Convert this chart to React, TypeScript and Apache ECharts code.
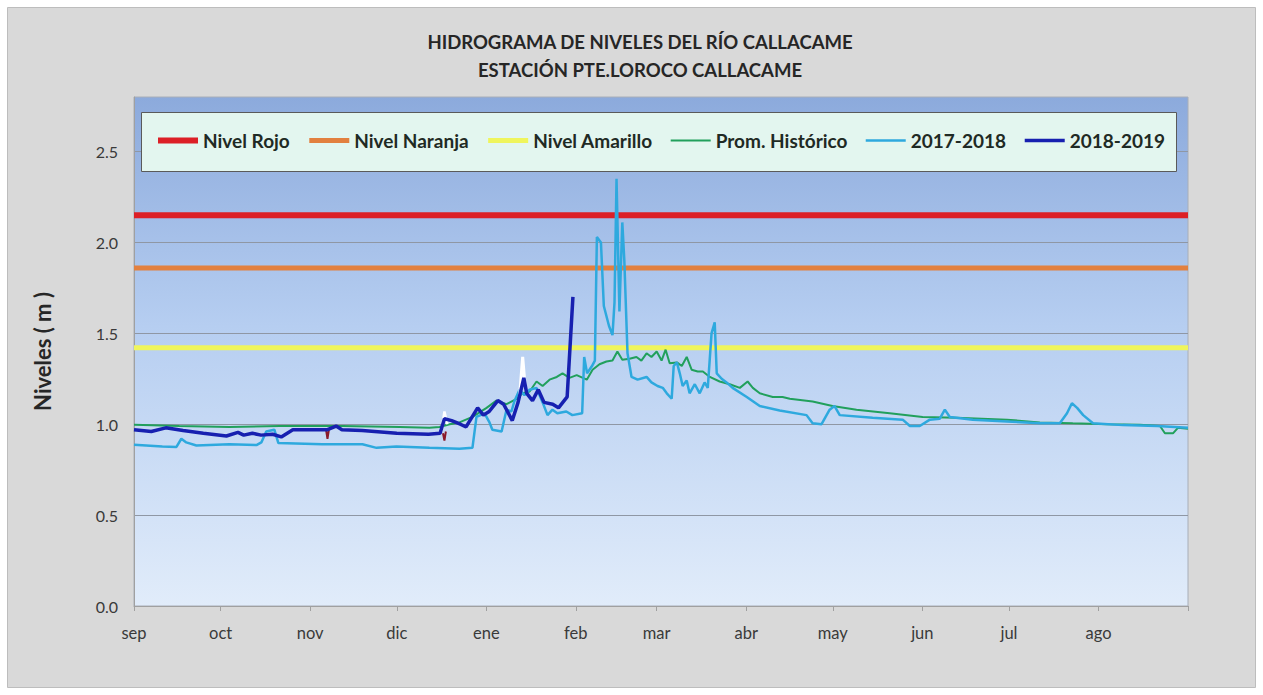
import React, { useEffect, useRef } from "react";
import * as echarts from "echarts";

// ---- axis labels ----
const titleLine1 = "HIDROGRAMA DE NIVELES DEL RÍO CALLACAME";
const titleLine2 = "ESTACIÓN PTE.LOROCO CALLACAME";
const yAxisName = "Niveles ( m )";
const monthLabels = ["sep", "oct", "nov", "dic", "ene", "feb", "mar", "abr", "may", "jun", "jul", "ago"];
// day index (from 1 sep) of each month start
const monthStartDays = [0, 30, 61, 91, 122, 153, 181, 212, 242, 273, 303, 334];
const yearEndDay = 365;

// ---- threshold levels (m) ----
const nivelRojo = 2.15;
const nivelNaranja = 1.86;
const nivelAmarillo = 1.42;

// ---- series: [day since 1 sep, level m] ----
const promHistorico: [number, number][] = [
  [0, 0.997], [15.7, 0.99], [33, 0.985], [50.4, 0.99], [72.2, 0.99], [92, 0.985], [102.3, 0.98],
  [105.8, 0.985], [109.3, 1.0], [112.7, 1.01], [117.2, 1.04], [122.1, 1.09], [125.5, 1.13],
  [129, 1.11], [132.5, 1.14], [134.6, 1.17], [137, 1.18], [139.4, 1.235], [141.5, 1.21],
  [143.9, 1.245], [146.4, 1.26], [148.4, 1.28], [150.8, 1.255], [153.3, 1.27], [156.8, 1.245],
  [158.8, 1.3], [161.2, 1.33], [163.6, 1.345], [165.7, 1.35], [167.4, 1.4], [169.1, 1.355],
  [171.6, 1.36], [174, 1.37], [175.7, 1.35], [177.5, 1.39], [179.2, 1.37], [181, 1.4],
  [182.7, 1.35], [184.1, 1.41], [185.5, 1.335], [188, 1.34], [189.7, 1.32], [191.4, 1.37],
  [193.1, 1.3], [195.2, 1.29], [197, 1.29], [199.4, 1.26], [202.8, 1.235], [206.3, 1.22],
  [209.8, 1.2], [212.5, 1.235], [214.3, 1.2], [216.7, 1.17], [221.2, 1.15], [224.6, 1.15],
  [227.1, 1.14], [235, 1.125], [241.9, 1.1], [250.2, 1.08], [261.7, 1.06], [273.1, 1.04],
  [284.9, 1.035], [302.3, 1.025], [313.7, 1.01], [325.1, 1.005], [336.9, 1.0], [348.3, 0.997],
  [355.3, 0.99], [357, 0.95], [359.8, 0.95], [361.5, 0.98], [365, 0.975],
];

const serie2017_2018: [number, number][] = [
  [0, 0.887], [9.8, 0.877], [14.7, 0.875], [16.4, 0.92], [18.1, 0.9], [21.6, 0.883], [33, 0.89],
  [42.4, 0.885], [44.1, 0.9], [45.8, 0.96], [48.6, 0.97], [50, 0.896], [65.2, 0.89], [79.1, 0.89],
  [84, 0.87], [90.9, 0.877], [102.3, 0.87], [112.7, 0.865], [117.2, 0.87], [118.6, 1.04],
  [121.4, 1.06], [123.1, 1.01], [124.1, 0.97], [127.3, 0.96], [129, 1.08], [130.7, 1.07],
  [131.7, 1.125], [133.5, 1.19], [135.2, 1.16], [137, 1.19], [139.4, 1.2], [141.5, 1.12],
  [143.2, 1.05], [144.9, 1.08], [146.6, 1.06], [149.7, 1.07], [151.8, 1.05], [155.2, 1.06],
  [155.9, 1.37], [156.9, 1.28], [158.6, 1.32], [159.6, 1.35], [160.3, 2.03], [161.7, 2.0],
  [162.7, 1.65], [164.5, 1.54], [165.7, 1.49], [166.4, 1.67], [167.1, 2.35], [168.1, 1.62],
  [169.1, 2.11], [169.8, 1.9], [170.9, 1.39], [172.3, 1.26], [174.4, 1.245], [177.5, 1.26],
  [179.2, 1.23], [181.3, 1.21], [183.1, 1.2], [184.5, 1.17], [186.2, 1.14], [186.9, 1.32],
  [188, 1.34], [189, 1.28], [190, 1.21], [191.4, 1.24], [192.4, 1.17], [194.2, 1.22],
  [195.9, 1.17], [197.6, 1.23], [198.7, 1.2], [200, 1.5], [201.1, 1.56], [201.8, 1.28],
  [203.5, 1.25], [205.2, 1.23], [207.3, 1.2], [212.2, 1.15], [216.7, 1.1], [223.6, 1.075],
  [232.9, 1.05], [235, 1.005], [238.1, 1.0], [240.9, 1.08], [242.6, 1.1], [244.4, 1.05],
  [255.8, 1.035], [266.2, 1.025], [268.7, 0.99], [272.1, 0.99], [275.6, 1.025], [279, 1.03],
  [280.8, 1.08], [282.5, 1.04], [290.5, 1.025], [302.3, 1.015], [313.7, 1.005], [320.6, 1.005],
  [323.1, 1.06], [324.8, 1.115], [326.6, 1.09], [328.7, 1.05], [332.1, 1.005], [342.5, 0.995],
  [354.3, 0.99], [365, 0.98],
];

const serie2018_2019: [number, number][] = [
  [0, 0.97], [6, 0.96], [11, 0.98], [17, 0.965], [24, 0.95], [32, 0.935], [36, 0.955], [38, 0.94],
  [41, 0.95], [44, 0.94], [48, 0.945], [51, 0.93], [55, 0.97], [67, 0.97], [70, 0.99], [72, 0.97],
  [79, 0.965], [91, 0.95], [102, 0.945], [106, 0.95], [107.5, 1.03], [110, 1.02], [113, 1.0],
  [115, 0.985], [119, 1.09], [121, 1.05], [123, 1.07], [126, 1.13], [128, 1.11], [131, 1.02],
  [133, 1.12], [135, 1.255], [136, 1.17], [138, 1.13], [140, 1.19], [142, 1.12], [145, 1.11],
  [147, 1.09], [150, 1.15], [152, 1.7],
];

// small partially hidden traces visible behind the 2018-2019 line
const trazoBlanco1: [number, number][] = [[106.5, 0.96], [107.5, 1.07], [108.5, 1.0]];
const trazoBlanco2: [number, number][] = [[133.5, 1.15], [134.6, 1.37], [135.5, 1.2]];
const trazoRojo1: [number, number][] = [[66.5, 0.97], [67, 0.92], [67.5, 0.97]];
const trazoRojo2: [number, number][] = [[107, 0.95], [107.5, 0.91], [108, 0.96]];

const legendNames = ["Nivel Rojo", "Nivel Naranja", "Nivel Amarillo", "Prom. Histórico", "2017-2018", "2018-2019"];

const FONT = "Lato";

export default function App() {
  const ref = useRef<HTMLDivElement>(null);

  useEffect(() => {
    document.body.style.margin = "0";
    const chart = echarts.init(ref.current!, null, { renderer: "svg" });

    const flat = (v: number, name: string, color: string, width: number) => ({
      name,
      type: "line",
      data: [[0, v], [yearEndDay, v]],
      symbol: "none",
      lineStyle: { color, width },
      itemStyle: { color },
      silent: true,
    });
    const trace = (data: [number, number][], name: string, color: string, width: number) => ({
      name,
      type: "line",
      data,
      symbol: "none",
      lineStyle: { color, width },
      itemStyle: { color },
      silent: true,
    });

    chart.setOption({
      animation: false,
      backgroundColor: "#ffffff",
      graphic: [
        {
          type: "rect",
          z: -10,
          shape: { x: 7.5, y: 7.5, width: 1248, height: 680 },
          style: { fill: "#d9d9d9", stroke: "#bdbdbd", lineWidth: 1 },
        },
        {
          type: "text",
          x: 640,
          y: 42,
          style: {
            text: titleLine1,
            textAlign: "center",
            textVerticalAlign: "middle",
            font: `bold 18.5px ${FONT}`,
            fill: "#262626",
          },
        },
        {
          type: "text",
          x: 640,
          y: 70,
          style: {
            text: titleLine2,
            textAlign: "center",
            textVerticalAlign: "middle",
            font: `bold 18.5px ${FONT}`,
            fill: "#262626",
          },
        },
        {
          type: "rect",
          z: 50,
          shape: { x: 141.5, y: 112.5, width: 1035, height: 59 },
          style: { fill: "#e3f6ef", stroke: "#5a5a5a", lineWidth: 1 },
        },
      ],
      legend: {
        z: 60,
        left: 150,
        top: 126,
        itemWidth: 40,
        itemHeight: 14,
        itemGap: 17,
        data: legendNames,
        itemStyle: { opacity: 0 },
        lineStyle: { width: "inherit" },
        textStyle: { fontFamily: FONT, fontWeight: "bold", fontSize: 19, color: "#1f2a24" },
      },
      grid: {
        left: 134,
        right: 75,
        top: 97,
        bottom: 89,
        show: true,
        borderWidth: 1,
        borderColor: "#a8aeb8",
        backgroundColor: new echarts.graphic.LinearGradient(0, 0, 0, 1, [
          { offset: 0, color: "#8caadc" },
          { offset: 0.45, color: "#b6cef1" },
          { offset: 1, color: "#e1ecfa" },
        ]),
      },
      xAxis: {
        type: "value",
        min: 0,
        max: yearEndDay,
        axisLine: { show: true, lineStyle: { color: "#a0a0a0" } },
        axisTick: { show: true, customValues: [...monthStartDays, yearEndDay], length: 5, lineStyle: { color: "#a0a0a0" } },
        axisLabel: {
          customValues: monthStartDays,
          formatter: (v: number) => {
            const i = monthStartDays.indexOf(Math.round(v));
            return i >= 0 ? monthLabels[i] : "";
          },
          margin: 18,
          fontFamily: FONT,
          fontSize: 16.5,
          color: "#3a3a3a",
        },
        splitLine: { show: false },
      },
      yAxis: {
        type: "value",
        min: 0,
        max: 2.8,
        interval: 0.5,
        name: yAxisName,
        nameLocation: "middle",
        nameGap: 81,
        nameTextStyle: { fontFamily: FONT, fontWeight: "bold", fontSize: 22, color: "#262626" },
        axisLine: { show: true, lineStyle: { color: "#a0a0a0" } },
        axisTick: { show: false },
        axisLabel: {
          showMaxLabel: false,
          formatter: (v: number) => v.toFixed(1),
          margin: 16,
          fontFamily: FONT,
          fontSize: 16,
          color: "#3a3a3a",
        },
        splitLine: { show: true, showMaxLine: false, lineStyle: { color: "#8f97a4", width: 1 } },
      },
      series: [
        flat(nivelRojo, "Nivel Rojo", "#dc1f26", 6),
        flat(nivelNaranja, "Nivel Naranja", "#e2803f", 5),
        flat(nivelAmarillo, "Nivel Amarillo", "#eff55c", 5),
        trace(promHistorico, "Prom. Histórico", "#21a05c", 2),
        trace(serie2017_2018, "2017-2018", "#2ea9de", 2.5),
        trace(trazoBlanco1, "", "#ffffff", 2.5),
        trace(trazoBlanco2, "", "#ffffff", 3),
        trace(trazoRojo1, "", "#8b1a2a", 2),
        trace(trazoRojo2, "", "#8b1a2a", 2),
        trace(serie2018_2019, "2018-2019", "#1720b0", 3.5),
      ],
    });

    return () => chart.dispose();
  }, []);

  return <div ref={ref} style={{ width: 1263, height: 695 }} />;
}
